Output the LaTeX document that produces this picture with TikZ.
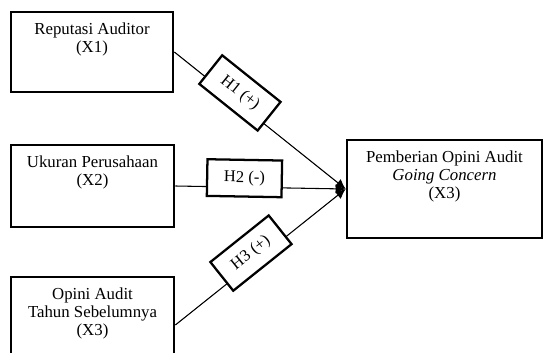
\documentclass[tikz,border=0pt]{standalone}
\usepackage{fontspec}
\setmainfont{Liberation Serif}
\usetikzlibrary{positioning}
\usetikzlibrary{arrows.meta}

\begin{document}
\begin{tikzpicture}[x=0.75pt, y=-0.75pt,
                varbox/.style={rectangle, draw, line width=2pt, inner sep=0pt},
                boxtext/.style={align=center, inner sep=0pt, font=\fontsize{12.6}{13.5}\selectfont},
                hypbox/.style={rectangle, draw, fill=white, line width=1.7pt, minimum width=56pt, minimum height=27.5pt, inner sep=0pt, font=\fontsize{12.4}{13.5}\selectfont},
                link/.style={line width=0.8pt, -{Latex[length=7.5pt, width=7pt]}},
            ]
            \useasboundingbox (0,0) rectangle (543,353);
            \clip (0,0) rectangle (543,353);

            % Nodes
            \node[varbox, minimum width=121.5pt, minimum height=60pt]   (reputasi)   at (92,52)      {};
            \node[varbox, minimum width=122.25pt, minimum height=61.5pt] (ukuran)    at (92.5,186)   {};
            \node[varbox, minimum width=122.25pt, minimum height=72pt]  (opini)      at (92.5,325)   {};
            \node[varbox, minimum width=146.25pt, minimum height=73.5pt] (going)     at (444.5,189)  {};

            \node[boxtext]  (reputasi_text)  [below=8.6pt of reputasi.north]  {Reputasi Auditor\\(X1)};
            \node[boxtext]  (ukuran_text)    [below=8.6pt of ukuran.north]    {Ukuran Perusahaan\\(X2)};
            \node[boxtext]  (opini_text)     [below=8.6pt of opini.north]     {Opini Audit\\Tahun Sebelumnya\\(X3)};
            \node[boxtext]  (going_text)     [below=8.6pt of going.north]     {Pemberian Opini Audit\\\textit{Going Concern}\\(X3)};

            %Lines
            \draw[link] (reputasi.east) -- node[hypbox, sloped, pos=0.35, yshift=6.75pt] (h1) {H1 (+)} (going.west);
            \draw[link] (ukuran.east) -- node[hypbox, sloped, pos=0.405, yshift=6.75pt] (h2) {H2 (-)} (going.west);
            \draw[link] (opini.east) -- node[hypbox, sloped, pos=0.477, yshift=6.75pt] (h3) {H3 (+)} (going.west);
        \end{tikzpicture}
\end{document}
